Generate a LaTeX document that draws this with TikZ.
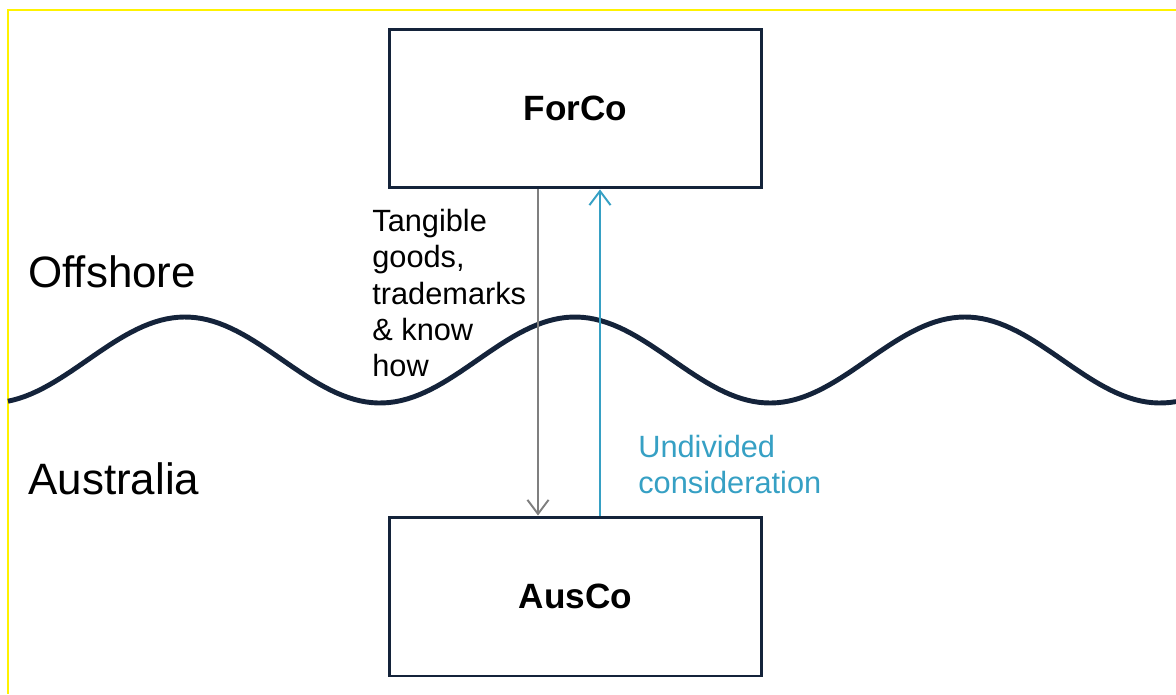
\documentclass[tikz,border=0pt]{standalone}
\usepackage{fontspec}
\setmainfont{Liberation Sans}
\usetikzlibrary{arrows.meta}

\definecolor{navy}{HTML}{14233A}
\definecolor{flowgrey}{HTML}{7F7F7F}
\definecolor{flowteal}{HTML}{36A0C4}

\tikzset{
	company/.style = {draw = navy, line width = 1.7pt, minimum width = 7.46cm,
		minimum height = 3.18cm, font = \fontsize{20}{24}\selectfont\bfseries},
	region/.style = {anchor = west, inner sep = 0pt, font = \fontsize{25}{30}\selectfont},
	flowtext/.style = {anchor = north west, align = left, inner sep = 0pt,
		font = \fontsize{17.5}{20.6}\selectfont},
	flow/.style = {line width = 1.1pt, -{Straight Barb[length = 8pt, width = 12pt]}}
}

\begin{document}
\begin{tikzpicture}[x = 0.02cm, y = -0.02cm]

	\useasboundingbox (0, 0) rectangle (1176, 694);

	% Frame edges
	
	\draw [yellow, line width = 0.6pt] (8, 694) -- (8, 10) -- (1176, 10);
	
	% Border wave
	
	\draw [navy, line width = 2.8pt] plot [domain = 8:1176, samples = 200]
		(\x, {360 + 43*cos((\x - 380)*0.923077)});
	
	\node [region] (offshore) at (28, 272) {Offshore};
	\node [region] (australia) at (28, 479) {Australia};
	
	% Companies
	
	\node [company] (forco) at (575.5, 108.5) {ForCo};
	\node [company] (ausco) at (575.5, 596.5) {AusCo};
	
	% Flows
	
	\draw [flow, flowgrey] ([xshift = -0.75cm] forco.south) -- ([xshift = -0.75cm] ausco.north);
	\draw [flow, flowteal] ([xshift = 0.49cm] ausco.north) -- ([xshift = 0.49cm] forco.south);
	
	\node [flowtext] (goods) at (372, 209) {Tangible\\goods,\\trademarks\\\& know\\how};
	\node [flowtext, text = flowteal] (consideration) at (638, 435) {Undivided\\consideration};

\end{tikzpicture}
\end{document}
